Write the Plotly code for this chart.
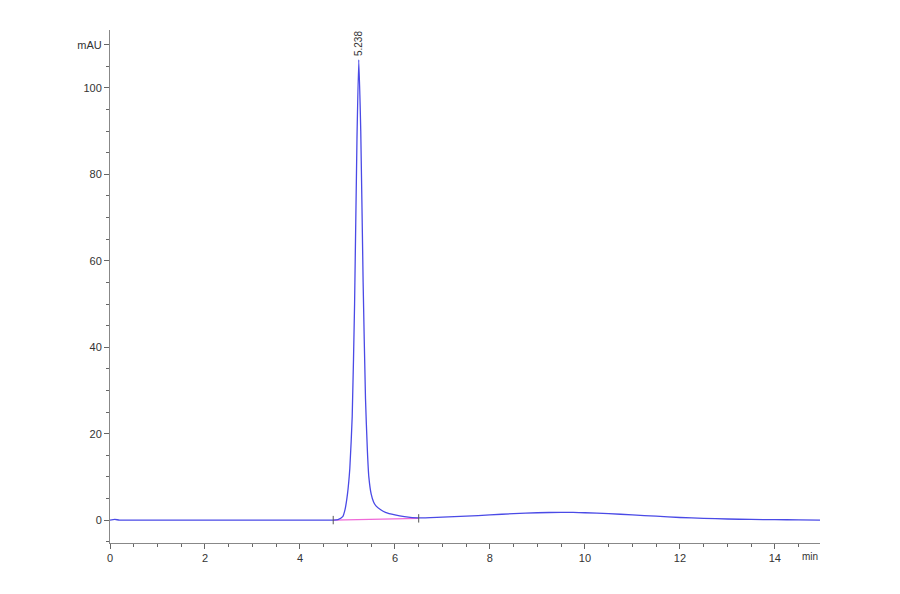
import plotly.graph_objects as go

# Chromatogram trace (time in min, absorbance in mAU)
time_min = [0.0, 0.1, 0.2, 1.0, 2.0, 3.0, 4.0, 4.5, 4.7, 4.8, 4.9, 4.95, 5.0, 5.05,
            5.1, 5.15, 5.2, 5.238, 5.28, 5.33, 5.38, 5.42, 5.45, 5.5, 5.55, 5.6,
            5.7, 5.8, 6.0, 6.2, 6.5, 7.0, 7.5, 8.0, 8.5, 9.0, 9.5, 9.75, 10.0,
            10.5, 11.0, 11.5, 12.0, 12.5, 13.0, 13.5, 14.0, 14.5, 14.95]
signal_mau = [0.0, 0.15, 0.0, 0.0, 0.0, 0.0, 0.0, 0.0, 0.0, 0.1, 0.8, 2.5, 6.0, 12.0,
              24.0, 50.0, 88.0, 106.5, 90.0, 55.0, 28.0, 16.0, 10.0, 6.0, 4.2, 3.3,
              2.4, 1.8, 1.2, 0.8, 0.5, 0.7, 0.9, 1.2, 1.5, 1.7, 1.8, 1.8, 1.7,
              1.5, 1.2, 0.9, 0.6, 0.4, 0.25, 0.15, 0.1, 0.05, 0.0]

# Integration baseline under the main peak
base_time = [4.7, 6.5]
base_mau = [0.0, 0.4]

peak_time = 5.238
peak_height = 106.5
peak_label = "5.238"

x_ticks = [0, 2, 4, 6, 8, 10, 12, 14]
y_ticks = [0, 20, 40, 60, 80, 100, 110]
y_labels = ["0", "20", "40", "60", "80", "100", "mAU"]

fig = go.Figure()

fig.add_trace(go.Scatter(x=base_time, y=base_mau, mode="lines",
                         line=dict(color="#f06ad8", width=1.4), hoverinfo="skip"))
fig.add_trace(go.Scatter(x=time_min, y=signal_mau, mode="lines",
                         line=dict(color="#4a4ae6", width=1.3, shape="spline", smoothing=0.5)))
# small integration markers at start / end of the peak
fig.add_trace(go.Scatter(x=base_time, y=base_mau, mode="markers",
                         marker=dict(symbol="line-ns", size=6, line=dict(color="#555555", width=1)),
                         hoverinfo="skip"))

fig.add_annotation(x=peak_time, y=peak_height, text=peak_label, textangle=-90,
                   showarrow=False, yanchor="bottom", xanchor="center", yshift=2,
                   font=dict(family="Liberation Sans, Arial", size=10, color="#333333"))
fig.add_annotation(x=1, xref="paper", y=0, yref="paper", text="min", showarrow=False,
                   xanchor="right", yanchor="top", yshift=-6,
                   font=dict(family="Liberation Sans, Arial", size=10, color="#333333"))

axis_font = dict(family="Liberation Sans, Arial", size=11, color="#333333")
fig.update_xaxes(range=[0, 14.95], tickvals=x_ticks, ticks="outside", ticklen=5,
                 tickcolor="#666666", showline=True, linecolor="#888888", linewidth=1,
                 showgrid=False, zeroline=False, tickfont=axis_font,
                 minor=dict(dtick=0.5, ticks="outside", ticklen=3, tickcolor="#666666"))
fig.update_yaxes(range=[-5.3, 113.4], tickvals=y_ticks, ticktext=y_labels,
                 ticks="outside", ticklen=5, tickcolor="#666666", showline=True,
                 linecolor="#888888", linewidth=1, showgrid=False, zeroline=False,
                 tickfont=axis_font,
                 minor=dict(dtick=5, ticks="outside", ticklen=3, tickcolor="#666666"))

# page adds an 8px body margin, so the margins are shifted to compensate
fig.update_layout(width=900, height=594, showlegend=False,
                  plot_bgcolor="white", paper_bgcolor="white",
                  margin=dict(l=102, r=88, t=22, b=59))

fig.write_html("out.html")
